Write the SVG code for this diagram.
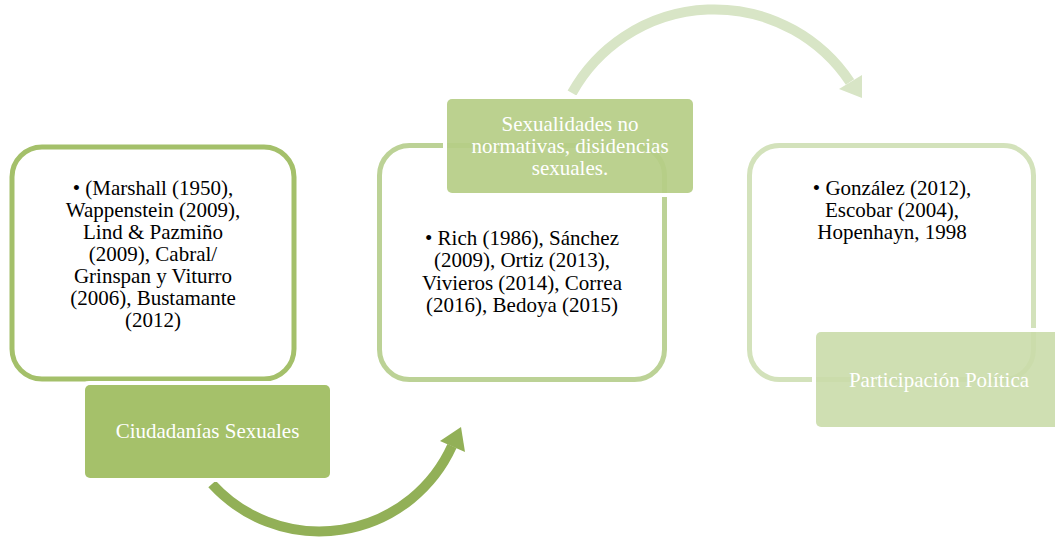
<svg xmlns="http://www.w3.org/2000/svg" width="1055" height="539" viewBox="0 0 1055 539">
<style>
.frame{fill:#ffffff;stroke-width:5}
.ring{fill:none;stroke:#ffffff;stroke-width:4}
.t{font-family:"Liberation Serif","Times New Roman",serif;font-size:21px;text-anchor:middle;fill:#000000}
.w{font-family:"Liberation Serif","Times New Roman",serif;font-size:21px;text-anchor:middle;fill:#ffffff}
</style>
<rect width="1055" height="539" fill="#ffffff"/>
<g id="connectors">
<path d="M 212 484 A 145.5 145.5 0 0 0 452 446" fill="none" stroke="#92b057" stroke-width="10"/>
<polygon points="461,427 465,452 440,441" fill="#92b057"/>
<path d="M 572 93 A 163 163 0 0 1 850 82" fill="none" stroke="#d8e5c6" stroke-width="10"/>
<polygon points="862,98 862,75 839,89" fill="#d8e5c6"/>
</g>
<g id="node1">
<rect class="frame" x="12" y="147" width="282" height="232" rx="30" stroke="#a4c06a"/>
<text class="t"><tspan x="153" y="195">• (Marshall (1950),</tspan><tspan x="153" y="217">Wappenstein (2009),</tspan><tspan x="153" y="239">Lind  &amp; Pazmiño</tspan><tspan x="153" y="261">(2009), Cabral/</tspan><tspan x="153" y="283">Grinspan y Viturro</tspan><tspan x="153" y="305">(2006), Bustamante</tspan><tspan x="153" y="327">(2012)</tspan></text>
</g>
<g id="label1">
<rect class="ring" x="83" y="383" width="249" height="97" rx="6"/>
<rect x="85" y="385" width="245" height="93" rx="5" fill="#a5c16a"/>
<text class="w" x="207.5" y="438">Ciudadanías Sexuales</text>
</g>
<g id="node2">
<rect class="frame" x="379.5" y="145.5" width="285" height="234" rx="30" stroke="#bcd296"/>
<text class="t"><tspan x="522" y="245">• Rich (1986), Sánchez</tspan><tspan x="522" y="267">(2009), Ortiz (2013),</tspan><tspan x="522" y="290">Vivieros (2014), Correa</tspan><tspan x="522" y="312">(2016), Bedoya (2015)</tspan></text>
</g>
<g id="label2">
<rect class="ring" x="445" y="97" width="250" height="98" rx="6"/>
<rect x="447" y="99" width="246" height="94" rx="5" fill="#b5cd86" fill-opacity="0.92"/>
<text class="w"><tspan x="570" y="131">Sexualidades no</tspan><tspan x="570" y="153">normativas, disidencias</tspan><tspan x="570" y="175">sexuales.</tspan></text>
</g>
<g id="node3">
<rect class="frame" x="749.5" y="145.5" width="284" height="234" rx="30" stroke="#d3e2bb"/>
<text class="t"><tspan x="892" y="195">• González (2012),</tspan><tspan x="892" y="217">Escobar (2004),</tspan><tspan x="892" y="239">Hopenhayn, 1998</tspan></text>
</g>
<g id="label3">
<rect class="ring" x="814" y="330" width="250" height="99" rx="6"/>
<rect x="816" y="332" width="246" height="95" rx="5" fill="#cadcaa" fill-opacity="0.9"/>
<text class="w" x="939" y="387">Participación Política</text>
</g>
</svg>
